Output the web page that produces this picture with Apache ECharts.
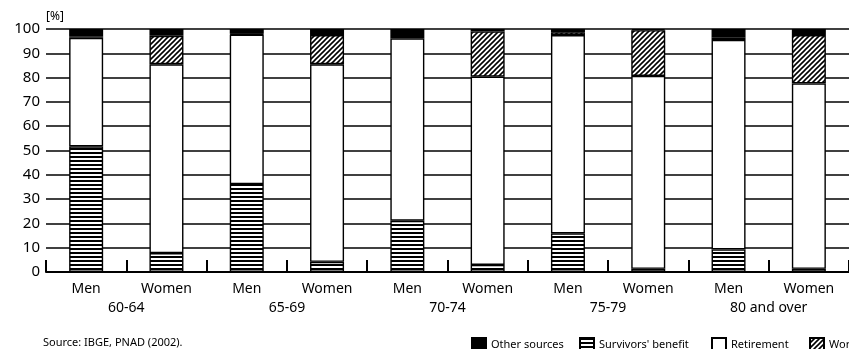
<!DOCTYPE html>
<html>
<head>
<meta charset="utf-8">
<script src="https://cdn.jsdelivr.net/npm/echarts@6/dist/echarts.min.js"></script>
<style>
  html, body { margin: 0; padding: 0; background: #fff; }
  #chart { width: 849px; height: 349px; }
</style>
</head>
<body>
<div id="chart"></div>
<script>
  // categories: sex within age group
  var sexes = ['Men', 'Women', 'Men', 'Women', 'Men', 'Women', 'Men', 'Women', 'Men', 'Women'];
  var ageGroups = ['60-64', '65-69', '70-74', '75-79', '80 and over'];
  // shares of income source [%], stacked from bottom
  var survivors = [51.7, 7.8, 36.2, 4.2, 21.1, 2.9, 15.9, 1.3, 9.3, 1.3];
  var retirement = [44.7, 77.7, 61.5, 81.3, 75.1, 77.5, 81.6, 79.4, 86.2, 76.3];
  var work = [0.6, 11.7, 0.3, 12.0, 0.9, 18.6, 1.2, 18.8, 1.1, 19.9];
  var other = [3.0, 2.8, 2.0, 2.5, 2.9, 1.0, 1.3, 0.5, 3.4, 2.5];
  var yTicks = [0, 10, 20, 30, 40, 50, 60, 70, 80, 90, 100];
  var legendNames = ['Other sources', "Survivors' benefit", 'Retirement', 'Work'];

  // fill patterns
  function stripes() {
    var c = document.createElement('canvas');
    c.width = 4; c.height = 4;
    var g = c.getContext('2d');
    g.fillStyle = '#fff'; g.fillRect(0, 0, 4, 4);
    g.fillStyle = '#000'; g.fillRect(0, 0, 4, 2);
    return c;
  }
  function hatch() {
    var s = 5;
    var c = document.createElement('canvas');
    c.width = s; c.height = s;
    var g = c.getContext('2d');
    g.fillStyle = '#fff'; g.fillRect(0, 0, s, s);
    g.strokeStyle = '#000'; g.lineWidth = 1.6;
    g.beginPath();
    g.moveTo(0, s); g.lineTo(s, 0);
    g.moveTo(-1, 1); g.lineTo(1, -1);
    g.moveTo(s - 1, s + 1); g.lineTo(s + 1, s - 1);
    g.stroke();
    return c;
  }

  var myChart = echarts.init(document.getElementById('chart'));
  var font = '"Noto Sans", "Liberation Sans", sans-serif';
  var border = { borderColor: '#000', borderWidth: 1.4 };

  // one legend per entry so each sits where the original has it
  var legendLeft = [471, 579, 711, 809];
  var legends = legendNames.map(function (name, i) {
    return {
      left: legendLeft[i],
      top: 337,
      padding: 0,
      icon: 'rect',
      itemWidth: 14,
      itemHeight: 13,
      textStyle: { fontSize: 11, color: '#000', fontFamily: font },
      data: [name]
    };
  });

  myChart.setOption({
    animation: false,
    textStyle: { fontFamily: font, color: '#000' },
    grid: { left: 46, right: -7, top: 29, bottom: 77 },
    legend: legends,
    graphic: [{
      type: 'text',
      left: 43,
      top: 337,
      style: { text: 'Source: IBGE, PNAD (2002).', fontSize: 11, fill: '#000', fontFamily: font }
    }],
    xAxis: [{
      type: 'category',
      data: sexes,
      z: 5,
      axisLine: { lineStyle: { color: '#000', width: 2 } },
      axisTick: { show: true, inside: true, length: 12, lineStyle: { color: '#000', width: 2 } },
      axisLabel: { fontSize: 14, color: '#000', margin: 10 }
    }, {
      type: 'category',
      data: ageGroups,
      position: 'bottom',
      offset: 19,
      axisLine: { show: false },
      axisTick: { show: false },
      axisLabel: { fontSize: 14, color: '#000', margin: 10 }
    }],
    yAxis: {
      type: 'value',
      min: yTicks[0],
      max: yTicks[yTicks.length - 1],
      interval: 10,
      name: '[%]',
      nameLocation: 'end',
      nameGap: 6,
      nameTextStyle: { align: 'left', fontSize: 12, color: '#000' },
      axisLine: { show: false },
      axisTick: { show: false },
      axisLabel: { fontSize: 15, color: '#000', margin: 6 },
      splitLine: { lineStyle: { color: '#000', width: 1.5 } }
    },
    series: [{
      name: "Survivors' benefit",
      type: 'bar',
      stack: 'all',
      barWidth: 34,
      data: survivors,
      itemStyle: Object.assign({ color: { image: stripes(), repeat: 'repeat' } }, border)
    }, {
      name: 'Retirement',
      type: 'bar',
      stack: 'all',
      data: retirement,
      itemStyle: Object.assign({ color: '#fff' }, border)
    }, {
      name: 'Work',
      type: 'bar',
      stack: 'all',
      data: work,
      itemStyle: Object.assign({ color: { image: hatch(), repeat: 'repeat' } }, border)
    }, {
      name: 'Other sources',
      type: 'bar',
      stack: 'all',
      data: other,
      itemStyle: Object.assign({ color: '#000' }, border)
    }]
  });
</script>
</body>
</html>
